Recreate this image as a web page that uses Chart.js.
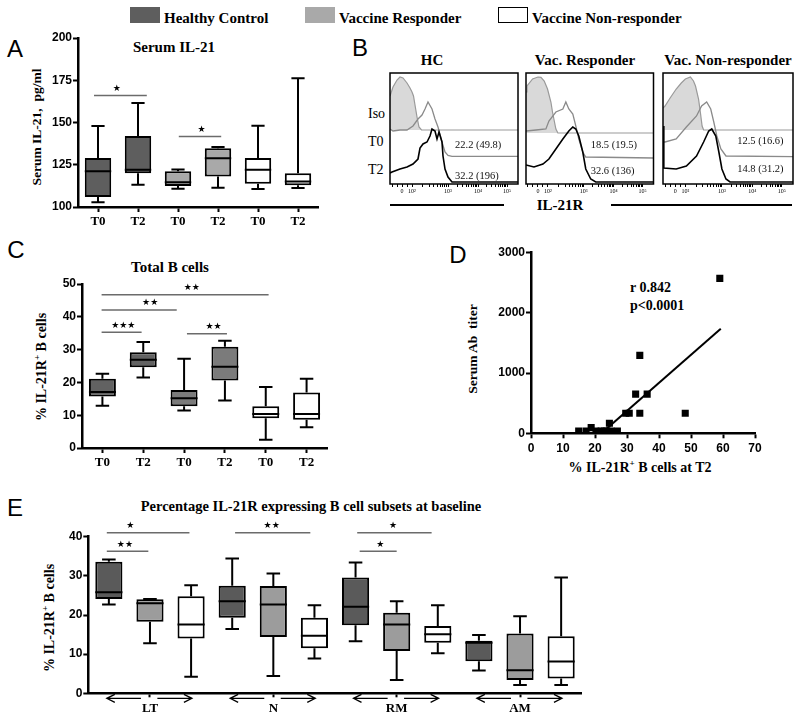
<!DOCTYPE html>
<html>
<head>
<meta charset="utf-8">
<script src="https://cdn.jsdelivr.net/npm/chart.js@4.4.1/dist/chart.umd.min.js"></script>
<style>
body { margin: 0; width: 800px; height: 718px; position: relative; background: #fff; overflow: hidden; font-family: 'Liberation Serif', serif; }
canvas { position: absolute; }
.t { position: absolute; white-space: nowrap; font-weight: bold; transform: translate(-50%, -50%); }
.l { position: absolute; white-space: nowrap; transform: translateY(-50%); }
.v { position: absolute; white-space: nowrap; font-weight: bold; transform: translate(-50%, -50%) rotate(-90deg); }
.letter { position: absolute; font-family: 'Liberation Sans', sans-serif; font-size: 24px; transform: translate(-50%, -50%); }
.sw { position: absolute; top: 7px; width: 30px; height: 16px; box-sizing: border-box; }
.rule { position: absolute; height: 2px; background: #000; }
sup { font-size: 9px; }
</style>
</head>
<body>

<div class="sw" style="left:130px;background:#5e5e5e"></div>
<div class="l" style="left:164px;top:18px;font-size:15px;font-weight:bold">Healthy Control</div>
<div class="sw" style="left:305px;background:#a9a9a9"></div>
<div class="l" style="left:339px;top:18px;font-size:15px;font-weight:bold">Vaccine Responder</div>
<div class="sw" style="left:498px;background:#fff;border:1.5px solid #000"></div>
<div class="l" style="left:532px;top:18px;font-size:15px;font-weight:bold">Vaccine Non-responder</div>

<div class="letter" style="left:15px;top:49px">A</div>
<div class="letter" style="left:360px;top:48px">B</div>
<div class="letter" style="left:16px;top:250px">C</div>
<div class="letter" style="left:458px;top:255px">D</div>
<div class="letter" style="left:15px;top:508px">E</div>

<div class="t" style="left:174px;top:47px;font-size:15px">Serum IL-21</div>
<div class="v" style="left:37px;top:127px;font-size:13.5px">Serum IL-21, &nbsp;pg/ml</div>

<div class="t" style="left:432px;top:60px;font-size:15px">HC</div>
<div class="t" style="left:585px;top:60px;font-size:15px">Vac. Responder</div>
<div class="t" style="left:728px;top:60px;font-size:15px">Vac. Non-responder</div>
<div class="l" style="left:368px;top:114px;font-size:14px">Iso</div>
<div class="l" style="left:368px;top:142px;font-size:14px">T0</div>
<div class="l" style="left:368px;top:170px;font-size:14px">T2</div>
<div class="t" style="left:560px;top:205px;font-size:15px">IL-21R</div>
<div class="rule" style="left:390px;top:204px;width:114px"></div>
<div class="rule" style="left:611px;top:204px;width:181px"></div>

<div class="t" style="left:170px;top:267px;font-size:15px">Total B cells</div>
<div class="v" style="left:41px;top:367px;font-size:14px">% IL-21R<sup>+</sup> B cells</div>

<div class="v" style="left:473px;top:349px;font-size:13.5px">Serum Ab &nbsp;titer</div>
<div class="t" style="left:640px;top:467px;font-size:14px">% IL-21R<sup>+</sup> B cells at T2</div>
<div class="l" style="left:630px;top:288px;font-size:14px;font-weight:bold">r 0.842</div>
<div class="l" style="left:630px;top:306px;font-size:14px;font-weight:bold">p&lt;0.0001</div>

<div class="t" style="left:311px;top:506px;font-size:14.5px">Percentage IL-21R expressing B cell subsets at baseline</div>
<div class="v" style="left:49px;top:618px;font-size:14px">% IL-21R<sup>+</sup> B cells</div>

<canvas id="chartA" width="285" height="215" style="left:40px;top:20px"></canvas>
<canvas id="chartHC" width="140" height="128" style="left:385px;top:68px"></canvas>
<canvas id="chartVR" width="140" height="128" style="left:521px;top:68px"></canvas>
<canvas id="chartNR" width="140" height="128" style="left:658px;top:68px"></canvas>
<canvas id="chartC" width="292" height="215" style="left:40px;top:255px"></canvas>
<canvas id="chartD" width="290" height="215" style="left:480px;top:240px"></canvas>
<canvas id="chartE" width="550" height="203" style="left:40px;top:515px"></canvas>

<script>
// ---- panel A: serum IL-21, pg/ml ----
const timesA = ['T0', 'T2', 'T0', 'T2', 'T0', 'T2'];
const loA  = [102.8, 113.2, 110.8, 111.4, 110.6, 111.2];
const q1A  = [105.9, 120.0, 112.4, 118.0, 113.8, 112.8];
const medA = [121.2, 122.0, 114.7, 128.9, 122.0, 115.1];
const q3A  = [129.0, 142.0, 121.2, 134.8, 129.0, 120.0];
const hiA  = [148.0, 161.5, 122.2, 135.5, 148.1, 176.2];
// [from, to, y, star x, stars]
const sigA = [[-0.1, 1.22, 166, 0.47, '★'], [2.02, 3.08, 141.7, 2.59, '★']];

// ---- panel B: IL-21R histograms, [channel, count] ----
const flowTicks = [12, 22, 58, 88, 117];
const flowTickLabels = ['0', '10²', '10³', '10⁴', '10⁵'];
const hcIso = [[0,88],[3,97],[7,104],[10,107],[13,106],[17,101],[20,96],[22,92],[23.5,88],[25,79],[27,67],[29,57],[31.5,54],[128,54]];
const hcT0  = [[0,55],[3,53],[10,54],[17,54],[23,58],[28,65],[32,69],[35,75],[38,82],[42,75],[45,65],[48,57],[52,42],[55,32],[58,28.5],[62,27.7],[128,27.7]];
const hcT2  = [[0,11],[2,12],[10,15],[17,17],[23,20],[28,25],[30,36],[33,40],[37,42],[40,48],[42,55],[45,53],[47,45],[49,52],[52,42],[53,28],[55,15],[58,7],[62,2],[128,2]];
const vrIso = [[0,92],[1,98],[6.6,105],[12,107],[15,106.7],[18.3,103],[21.6,95],[25,82],[26.6,72],[30,55],[32,51],[128,51]];
const vrT0  = [[0,53],[10,54],[20,55],[23,63],[30,72],[37,75],[40,82],[43,75],[47,70],[50,58],[53,45],[57,32],[60,27],[128,26]];
const vrT2  = [[0,19],[8,17],[17,20],[23,25],[30,35],[37,45],[43,53],[47,57],[50,55],[53,48],[57,32],[60,15],[65,5],[70,2],[128,2]];
const nrIso = [[0,76],[2,78],[7,86],[13,95],[18,101],[22,105],[27,107],[30,103],[32,98],[35,85],[37,70],[38.5,58],[40,54],[128,54]];
const nrT0  = [[0,42],[2,42],[13,45],[23,57],[33,68],[38,78],[43,82],[47,75],[50,62],[53,48],[57,35],[62,28],[128,27.3]];
const nrT2  = [[0,58],[0.8,16],[13,15],[23,18],[33,28],[40,42],[45,53],[48,55],[52,48],[55,32],[58,15],[62,5],[66,2],[128,2]];
const hcStats = ['22.2 (49.8)', '32.2 (196)'];
const vrStats = ['18.5 (19.5)', '32.6 (136)'];
const nrStats = ['12.5 (16.6)', '14.8 (31.2)'];

// ---- panel C: % IL-21R+ total B cells ----
const loC  = [12.9, 21.5, 11.4, 14.5, 2.5, 6.3];
const q1C  = [15.7, 24.6, 12.7, 20.6, 9.1, 8.6];
const medC = [17.1, 26.9, 15.2, 24.8, 10.4, 10.4];
const q3C  = [21.1, 29.2, 17.7, 30.9, 12.7, 16.9];
const hiC  = [22.6, 32.3, 27.2, 32.7, 18.6, 21.1];
const sigC = [[-0.02, 4.07, 46.7, 2.19, '★★'], [-0.02, 1.82, 42.1, 1.17, '★★'],
              [-0.02, 0.96, 35.3, 0.51, '★★★'], [2.07, 3.05, 34.8, 2.72, '★★']];

// ---- panel D: correlation ----
const pctD   = [14.9, 17.2, 18.8, 20.3, 21.9, 22.9, 23.7, 24.5, 25, 27, 29.6, 30.7, 32.7, 34, 34, 36.3, 48.2, 59];
const titerD = [38, 38, 94, 38, 38, 38, 38, 166, 38, 38, 333, 333, 650, 333, 1293, 650, 333, 2571];
const fitX = [22, 59.3];
const fitY = [0, 1733];

// ---- panel E: subsets at baseline (HC, VR, NR per subset) ----
const subsets = ['LT', 'N', 'RM', 'AM'];
const loE  = [22.7, 12.8, 4.2, 16.4, 4.4, 8.9, 13.3, 3.4, 10.2, 5.8, 2.1, 2.1];
const q1E  = [24.1, 18.3, 14.0, 19.3, 14.4, 11.5, 17.4, 10.8, 12.9, 8.2, 3.4, 3.8];
const medE = [25.8, 23.0, 17.6, 23.5, 22.7, 14.7, 22.1, 17.6, 15.1, 12.9, 5.9, 8.1];
const q3E  = [33.6, 24.0, 24.8, 27.5, 27.4, 19.3, 29.6, 20.6, 17.2, 13.4, 15.3, 14.6];
const hiE  = [34.2, 24.1, 27.6, 34.4, 30.6, 22.5, 33.4, 23.5, 22.5, 14.9, 19.7, 29.6];
const sigE = [[-0.05, 1.96, 41, 0.52, '★'], [-0.05, 0.96, 36.3, 0.39, '★★'], [3.07, 4.9, 41, 3.96, '★★'],
              [6.04, 7.85, 41, 6.91, '★'], [6.1, 7.0, 36.3, 6.6, '★']];

const numFont = { family: "'Liberation Sans',sans-serif", size: 12, weight: 'bold' };
const catFont = { family: "'Liberation Serif',serif", size: 13, weight: 'bold' };

function whiskers(lo, med, hi) {
  return {
    id: 'whiskers',
    afterDatasetsDraw(chart) {
      const { ctx, scales: { y } } = chart;
      ctx.save();
      ctx.strokeStyle = '#000';
      ctx.lineWidth = 2;
      chart.getDatasetMeta(0).data.forEach((bar, i) => {
        const x = bar.x, w = bar.width, cap = w * 0.25;
        const top = Math.min(bar.y, bar.base), bot = Math.max(bar.y, bar.base);
        const yHi = y.getPixelForValue(hi[i]), yLo = y.getPixelForValue(lo[i]), yMed = y.getPixelForValue(med[i]);
        ctx.beginPath();
        ctx.moveTo(x, top); ctx.lineTo(x, yHi);
        ctx.moveTo(x - cap, yHi); ctx.lineTo(x + cap, yHi);
        ctx.moveTo(x, bot); ctx.lineTo(x, yLo);
        ctx.moveTo(x - cap, yLo); ctx.lineTo(x + cap, yLo);
        ctx.moveTo(x - w / 2, yMed); ctx.lineTo(x + w / 2, yMed);
        ctx.stroke();
      });
      ctx.restore();
    }
  };
}

function sigBars(items) {
  return {
    id: 'sigBars',
    afterDraw(chart) {
      const { ctx, scales: { x, y } } = chart;
      ctx.save();
      items.forEach(([a, b, v, sx, stars]) => {
        const yy = y.getPixelForValue(v);
        ctx.strokeStyle = '#6b6b6b';
        ctx.lineWidth = 1.5;
        ctx.beginPath();
        ctx.moveTo(x.getPixelForValue(a), yy);
        ctx.lineTo(x.getPixelForValue(b), yy);
        ctx.stroke();
        ctx.fillStyle = '#000';
        ctx.font = "9px 'DejaVu Sans'";
        ctx.textAlign = 'center';
        ctx.textBaseline = 'middle';
        ctx.fillText(stars, x.getPixelForValue(sx), yy - 7);
      });
      ctx.restore();
    }
  };
}

function yAxis(min, max, step, w) {
  return {
    min: min, max: max,
    ticks: { stepSize: step, font: numFont, color: '#000', padding: 1, callback: v => String(v) },
    grid: { drawOnChartArea: false, tickLength: 5, tickWidth: 2, color: '#000' },
    border: { width: 2.5, color: '#000' },
    afterFit: s => { s.width = w; }
  };
}

function boxChart(id, labels, lo, q1, med, q3, hi, colors, y, sig, xH, pad) {
  new Chart(document.getElementById(id), {
    type: 'bar',
    data: {
      labels: labels,
      datasets: [{
        data: q1.map((v, i) => [v, q3[i]]),
        backgroundColor: colors,
        borderColor: '#000',
        borderWidth: 2,
        borderSkipped: false,
        barPercentage: 0.66,
        categoryPercentage: 1
      }]
    },
    options: {
      responsive: false, animation: false, devicePixelRatio: 1,
      layout: { padding: pad },
      plugins: { legend: { display: false }, tooltip: { enabled: false } },
      scales: {
        x: {
          ticks: { font: catFont, color: '#000', padding: 2, autoSkip: false, maxRotation: 0 },
          grid: { offset: false, drawOnChartArea: false, tickLength: 5, tickWidth: 2, color: '#000' },
          border: { width: 2.5, color: '#000' },
          afterFit: s => { s.height = xH; }
        },
        y: y
      }
    },
    plugins: [whiskers(lo, med, hi), sigBars(sig)]
  });
}

// panel A
boxChart('chartA', timesA, loA, q1A, medA, q3A, hiA,
  ['#5e5e5e', '#5e5e5e', '#a9a9a9', '#a9a9a9', '#fff', '#fff'],
  yAxis(100, 200, 25, 38), sigA, 28, { top: 18, right: 7, left: 0, bottom: 0 });

// panel C
boxChart('chartC', timesA, loC, q1C, medC, q3C, hiC,
  ['#626262', '#626262', '#7b7b7b', '#7b7b7b', '#fff', '#fff'],
  yAxis(0, 50, 10, 42), sigC, 22, { top: 29, right: 5, left: 0, bottom: 0 });

// panel E
const catsE = [];
subsets.forEach(s => { catsE.push('', s, ''); });
const colE = [];
subsets.forEach(() => { colE.push('#5a5a5a', '#9c9c9c', '#fff'); });
const arrowsE = {
  id: 'arrowsE',
  afterDraw(chart) {
    const { ctx, scales: { x }, chartArea } = chart;
    const yy = chartArea.bottom + 5;
    ctx.save();
    ctx.strokeStyle = '#000';
    ctx.lineWidth = 1.3;
    subsets.forEach((s, g) => {
      const c = g * 3 + 1;
      const l1 = x.getPixelForValue(c - 1.05), l2 = x.getPixelForValue(c - 0.22);
      const r1 = x.getPixelForValue(c + 0.18), r2 = x.getPixelForValue(c + 1.02);
      ctx.beginPath();
      ctx.moveTo(l2, yy); ctx.lineTo(l1, yy);
      ctx.moveTo(l1 + 8, yy - 4); ctx.lineTo(l1, yy); ctx.lineTo(l1 + 8, yy + 4);
      ctx.moveTo(r1, yy); ctx.lineTo(r2, yy);
      ctx.moveTo(r2 - 8, yy - 4); ctx.lineTo(r2, yy); ctx.lineTo(r2 - 8, yy + 4);
      ctx.stroke();
    });
    ctx.restore();
  }
};
new Chart(document.getElementById('chartE'), {
  type: 'bar',
  data: {
    labels: catsE,
    datasets: [{
      data: q1E.map((v, i) => [v, q3E[i]]),
      backgroundColor: colE,
      borderColor: '#000',
      borderWidth: 2,
      borderSkipped: false,
      barPercentage: 0.66,
      categoryPercentage: 1
    }]
  },
  options: {
    responsive: false, animation: false, devicePixelRatio: 1,
    layout: { padding: { top: 21.7, right: 8.3, left: 0, bottom: 0 } },
    plugins: { legend: { display: false }, tooltip: { enabled: false } },
    scales: {
      x: {
        ticks: { font: catFont, color: '#000', padding: 4, autoSkip: false, maxRotation: 0 },
        grid: { offset: false, drawOnChartArea: false, tickLength: 4, tickWidth: 2,
                color: c => (catsE[c.index] ? '#000' : 'rgba(0,0,0,0)') },
        border: { width: 2.5, color: '#000' },
        afterFit: s => { s.height = 24.7; }
      },
      y: yAxis(0, 40, 10, 48.3)
    }
  },
  plugins: [whiskers(loE, medE, hiE), sigBars(sigE), arrowsE]
});

// panel D
new Chart(document.getElementById('chartD'), {
  type: 'scatter',
  data: {
    datasets: [
      { data: pctD.map((v, i) => ({ x: v, y: titerD[i] })), pointStyle: 'rect', radius: 5,
        backgroundColor: '#000', borderColor: '#000', borderWidth: 0 },
      { data: fitX.map((v, i) => ({ x: v, y: fitY[i] })), showLine: true, pointRadius: 0,
        borderColor: '#000', borderWidth: 2 }
    ]
  },
  options: {
    responsive: false, animation: false, devicePixelRatio: 1,
    layout: { padding: { top: 12.5, right: 15, left: 0, bottom: 0 } },
    plugins: { legend: { display: false }, tooltip: { enabled: false } },
    scales: {
      x: {
        min: 0, max: 70,
        ticks: { stepSize: 10, font: numFont, color: '#000', padding: 3 },
        grid: { drawOnChartArea: false, tickLength: 5, tickWidth: 2, color: '#000' },
        border: { width: 2.5, color: '#000' },
        afterFit: s => { s.height = 21.7; }
      },
      y: yAxis(0, 3000, 1000, 51)
    }
  }
});

// panel B
const frame = {
  id: 'frame',
  afterDraw(chart) {
    const { ctx, chartArea: a } = chart;
    ctx.save();
    ctx.strokeStyle = '#000';
    ctx.lineWidth = 1.5;
    ctx.strokeRect(a.left, a.top, a.right - a.left, a.bottom - a.top);
    ctx.restore();
  }
};
function statText(lines, x0, y0, y1) {
  return {
    id: 'statText',
    afterDraw(chart) {
      const { ctx, scales: { x, y } } = chart;
      ctx.save();
      ctx.fillStyle = '#111';
      ctx.font = "10.5px 'Liberation Serif'";
      ctx.textBaseline = 'middle';
      ctx.fillText(lines[0], x.getPixelForValue(x0), y.getPixelForValue(y0));
      ctx.fillText(lines[1], x.getPixelForValue(x0), y.getPixelForValue(y1));
      ctx.restore();
    }
  };
}
const minorTicks = [2, 7, 17];
for (let d = 1; d < 4; d++) {
  for (let k = 2; k < 10; k++) {
    minorTicks.push(flowTicks[d] + (flowTicks[d + 1] - flowTicks[d]) * Math.log10(k));
  }
}
function histChart(id, iso, t0, t2, stats, tx, ty0, ty1, padR) {
  const pts = arr => arr.map(p => ({ x: p[0], y: p[1] }));
  new Chart(document.getElementById(id), {
    type: 'line',
    data: {
      datasets: [
        { data: pts(t2), borderColor: '#000', borderWidth: 1.6, pointRadius: 0, fill: false },
        { data: pts(t0), borderColor: '#8a8a8a', borderWidth: 1.3, pointRadius: 0, fill: false },
        { data: pts(iso), borderColor: '#9a9a9a', borderWidth: 1.2, pointRadius: 0,
          backgroundColor: '#d9d9d9', fill: { value: iso[iso.length - 1][1] } }
      ]
    },
    options: {
      responsive: false, animation: false, devicePixelRatio: 1,
      layout: { padding: { top: 5, left: 5, right: padR, bottom: 0 } },
      plugins: { legend: { display: false }, tooltip: { enabled: false } },
      scales: {
        x: {
          type: 'linear', min: 0, max: 128,
          afterBuildTicks: s => { s.ticks = flowTicks.concat(minorTicks).map(v => ({ value: v })); },
          ticks: {
            autoSkip: false, maxRotation: 0, padding: 1, color: '#000',
            font: { family: "'Liberation Serif',serif", size: 6 },
            callback: v => { const i = flowTicks.indexOf(v); return i >= 0 ? flowTickLabels[i] : ''; }
          },
          grid: { drawOnChartArea: false, tickLength: 3, tickWidth: 1, color: '#000' },
          border: { display: false },
          afterFit: s => { s.height = 12; }
        },
        y: { display: false, min: 0, max: 111 }
      }
    },
    plugins: [frame, statText(stats, tx, ty0, ty1)]
  });
}
histChart('chartHC', hcIso, hcT0, hcT2, hcStats, 65, 39, 8, 7);
histChart('chartVR', vrIso, vrT0, vrT2, vrStats, 65, 39, 12.3, 7.5);
histChart('chartNR', nrIso, nrT0, nrT2, nrStats, 73, 42.3, 15, 5);
</script>
</body>
</html>
